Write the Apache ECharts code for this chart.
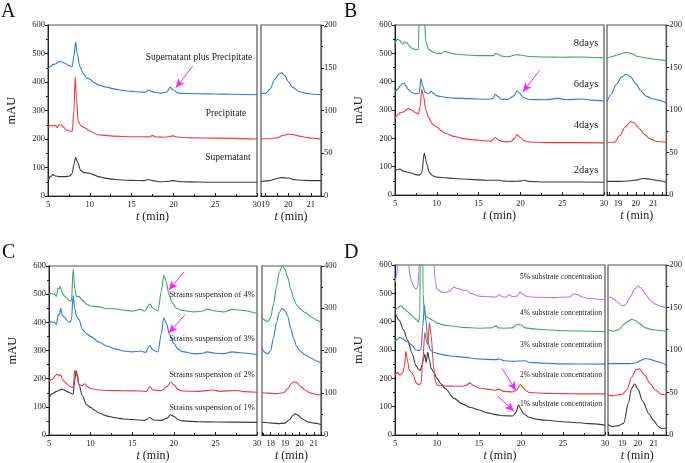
<!DOCTYPE html>
<html><head><meta charset="utf-8">
<script src="https://cdn.jsdelivr.net/npm/echarts@6/dist/echarts.min.js"></script>
<style>html,body{margin:0;padding:0;background:#fff}#c{width:685px;height:463px}</style>
</head><body><div id="c"></div>
<script>
// ---------- DATA ----------
// Panel A main (t, mAU)
const A_sp = [[5,446],[5.3,455],[5.6,462],[5.9,463],[6.2,470],[6.6,471],[7,466],[7.5,458],[7.9,455],[8.1,490],[8.3,540],[8.5,500],[8.8,455],[9.2,430],[9.6,415],[10,410],[10.5,398],[11,390],[12,382],[13,375],[14,370],[15,367],[16,365],[16.7,364],[17,372],[17.3,368],[17.8,363],[18.5,361],[19.2,365],[19.6,381],[20,372],[20.5,362],[21,360],[23,359],[25,358],[27,357],[30,355]];
const A_pr = [[5,242],[5.3,248],[5.6,246],[5.9,248],[6.1,240],[6.3,250],[6.6,248],[6.9,240],[7.2,232],[7.6,228],[7.9,226],[8.1,300],[8.25,418],[8.4,350],[8.6,260],[9,245],[9.5,238],[10,228],[11,215],[12,212],[13,210],[15,208],[16.5,208],[17,207],[17.5,212],[18,207],[19,206],[20,211],[20.5,207],[22,204],[25,203],[30,200]];
const A_su = [[5,55],[5.3,68],[5.6,75],[5.9,70],[6.3,68],[7,68],[7.6,70],[7.9,80],[8.1,110],[8.3,135],[8.6,115],[8.9,90],[9.3,82],[10,80],[10.5,74],[11,68],[12,62],[13,58],[14,56],[15,55],[16.5,54],[17,58],[17.5,54],[18.5,50],[19.5,52],[20,54],[21,50],[23,49],[25,48],[30,48]];
// Panel A inset (right axis)
const Ai_sp = [[18.8,120],[19,120],[19.2,125],[19.4,136],[19.6,143],[19.7,144],[19.85,141],[20,134],[20.2,127],[20.5,122],[20.8,120],[21.1,119],[21.45,118.5]];
const Ai_pr = [[18.8,67],[19.2,67],[19.5,68],[19.8,71],[20,72.5],[20.2,72],[20.5,70],[20.8,68.5],[21.1,67.5],[21.45,66.5]];
const Ai_su = [[18.8,17],[19.2,18],[19.5,20.5],[19.7,21.5],[20,21],[20.3,19],[20.6,18.5],[21,18],[21.45,18]];

// Panel B main
const B_8 = [[5,535],[5.3,550],[5.6,545],[5.9,532],[6.1,540],[6.4,538],[6.6,530],[7,518],[7.5,512],[7.8,515],[7.9,640],[8.0,800],[8.4,800],[8.5,620],[8.7,540],[9,515],[9.5,505],[10,500],[10.5,500],[11,507],[11.5,502],[12,498],[13,495],[15,492],[16.8,492],[17,500],[17.3,497],[17.8,490],[18.5,488],[19.5,495],[20,494],[21,489],[23,487],[25,486],[27,487],[30,484]];
const B_6 = [[5,365],[5.3,372],[5.6,385],[5.9,393],[6.1,395],[6.3,385],[6.6,372],[7,362],[7.5,357],[7.9,360],[8.1,412],[8.3,385],[8.6,362],[9,358],[9.3,366],[9.6,358],[10,350],[11,345],[12,342],[14,340],[16,338],[16.7,340],[17,355],[17.3,348],[17.7,338],[18.5,337],[19.2,350],[19.6,367],[19.9,360],[20.3,345],[21,337],[23,336],[24.5,341],[25.5,336],[27.5,339],[28.5,335],[30,332]];
const B_4 = [[5,270],[5.3,282],[5.6,290],[6,293],[6.3,300],[6.6,305],[7,300],[7.4,292],[7.8,285],[8.0,310],[8.2,372],[8.4,350],[8.7,300],[9,275],[9.5,250],[10,240],[10.5,228],[11,218],[12,207],[13,200],[14,196],[15,193],[16.5,190],[17,203],[17.3,196],[17.8,189],[18.8,188],[19.3,200],[19.6,213],[20,203],[20.4,192],[21,187],[23,185],[25,185],[30,184]];
const B_2 = [[5,84],[5.3,90],[5.6,92],[5.9,85],[6.3,82],[7,77],[7.5,72],[7.9,70],[8.2,78],[8.5,148],[8.8,110],[9.1,80],[9.5,68],[10,63],[11,61],[12,58],[14,55],[16,52],[17.5,52],[18,49],[19,48],[20,49],[20.5,52],[21,48],[23,46],[25,46],[30,45]];
const Bi_8 = [[18.38,161],[18.7,163],[19,165],[19.3,167],[19.5,168],[19.8,166],[20.1,163],[20.5,161.5],[21,160],[21.4,159],[21.71,158]];
const Bi_6 = [[18.38,110],[18.6,118],[18.9,130],[19.2,139],[19.45,142],[19.7,139],[20,131],[20.3,122],[20.6,116],[21,113],[21.4,111],[21.71,108]];
const Bi_4 = [[18.38,62],[18.8,62],[19.1,70],[19.4,80],[19.7,86],[19.9,85],[20.2,78],[20.5,71],[20.8,66],[21.2,63],[21.71,62]];
const Bi_2 = [[18.38,16],[19,16],[19.6,16.5],[20,17.5],[20.4,19.5],[20.7,19],[21.1,17.5],[21.4,16.5],[21.71,15]];

// Panel C main
const C_4 = [[5,500],[5.3,503],[5.6,500],[5.9,492],[6.05,522],[6.2,518],[6.35,528],[6.5,510],[6.8,495],[7.1,488],[7.4,478],[7.7,475],[7.9,588],[8.1,520],[8.3,492],[8.6,492],[9,478],[9.5,465],[10,458],[11,455],[12,448],[13,448],[14,443],[15,440],[16,446],[16.5,440],[17.1,465],[17.5,450],[18.1,440],[18.5,510],[18.8,567],[19.1,545],[19.4,500],[19.8,470],[20.3,450],[21,442],[22.5,437],[23.5,440],[24,447],[25,440],[26,437],[27,446],[28,443],[30,432]];
const C_3 = [[5,395],[5.3,402],[5.6,400],[5.9,393],[6.1,428],[6.25,425],[6.4,450],[6.6,425],[6.9,418],[7.2,405],[7.5,400],[7.7,410],[7.9,495],[8.1,450],[8.3,420],[8.6,410],[9,375],[9.5,360],[10,350],[11,330],[12,315],[13,305],[14,298],[15,295],[16,298],[16.6,293],[17.1,318],[17.5,302],[18.1,295],[18.5,360],[18.8,415],[19.1,398],[19.5,355],[20,325],[20.5,305],[21,296],[22.5,288],[23.5,290],[24,295],[25,290],[26,289],[27,295],[28,292],[30,285]];
const C_2 = [[5,190],[5.4,198],[5.8,212],[6,216],[6.2,210],[6.4,215],[6.6,198],[7,185],[7.5,172],[7.9,168],[8.1,230],[8.3,215],[8.6,178],[9,175],[9.3,182],[9.6,172],[10,165],[11,160],[12,158],[14,157],[16,156],[16.7,155],[17.1,172],[17.5,160],[18.5,157],[19.2,172],[19.6,188],[20,178],[20.5,162],[21,156],[23,155],[24.7,160],[25.5,155],[27.5,158],[28.5,154],[30,152]];
const C_1 = [[5,130],[5.3,145],[5.6,150],[5.9,155],[6.2,158],[6.5,163],[6.8,160],[7.1,155],[7.5,150],[7.9,145],[8.1,195],[8.25,228],[8.4,215],[8.6,180],[9,140],[9.5,108],[10,98],[10.5,88],[11,78],[12,67],[13,61],[14,57],[15,55],[16.5,52],[17.1,62],[17.6,53],[18.5,52],[19.2,60],[19.6,72],[20,66],[20.5,55],[21,50],[23,47],[25,46],[30,45]];
const Ci_4 = [[17.4,278],[17.6,272],[17.8,268],[18,278],[18.2,310],[18.4,350],[18.6,385],[18.8,400],[19,392],[19.2,372],[19.4,345],[19.6,323],[19.8,308],[20,300],[20.4,290],[20.8,280],[21.2,272],[21.5,266]];
const Ci_3 = [[17.4,205],[17.6,196],[17.8,192],[18,200],[18.2,230],[18.4,265],[18.6,290],[18.8,300],[19,295],[19.2,280],[19.4,252],[19.6,228],[19.8,210],[20,200],[20.4,190],[20.8,182],[21.2,175],[21.5,170]];
const Ci_2 = [[17.4,100],[17.8,99],[18.4,98],[18.9,100],[19.2,110],[19.4,120],[19.6,126],[19.8,124],[20.1,115],[20.4,106],[20.8,99],[21.2,96],[21.5,94]];
const Ci_1 = [[17.4,30],[17.8,29],[18.5,27],[19,28],[19.3,36],[19.55,46],[19.7,50],[19.9,47],[20.2,38],[20.6,31],[21,28],[21.5,25]];

// Panel D main
const D_5 = [[5,540],[5.2,560],[5.35,620],[5.45,800],[6.5,800],[6.6,620],[6.75,565],[7,540],[7.3,520],[7.5,515],[7.7,522],[7.85,580],[7.95,800],[9.5,800],[9.6,620],[9.8,540],[10,515],[10.5,505],[11,502],[11.6,510],[12,522],[12.4,518],[13,512],[13.5,510],[14,500],[15,490],[16,488],[17,487],[17.4,495],[17.8,488],[18.2,486],[18.6,495],[19,488],[19.5,490],[19.9,505],[20.3,495],[20.8,488],[22,486],[24,485],[25.8,487],[26.3,498],[26.7,496],[27.3,487],[28,482],[30,478]];
const D_4 = [[5,440],[5.3,448],[5.6,455],[5.8,456],[6.1,445],[6.5,435],[7,422],[7.5,408],[7.8,398],[7.95,420],[8.05,800],[8.25,800],[8.35,500],[8.5,425],[9,412],[9.5,405],[10,395],[11,387],[12,384],[13,380],[15,377],[16.5,378],[17,385],[17.3,378],[18,377],[19,378],[19.6,392],[20,388],[20.5,378],[22,373],[25,368],[30,365]];
const D_3 = [[5,330],[5.3,338],[5.6,345],[5.9,340],[6.3,332],[7,318],[7.5,300],[7.9,298],[8.1,305],[8.3,380],[8.5,457],[8.7,400],[8.9,330],[9.2,300],[9.6,292],[10,288],[11,282],[12,278],[13,275],[15,268],[17,266],[17.5,268],[18,262],[19,260],[20.5,262],[21,256],[23,253],[25,251],[30,250]];
const D_2 = [[5,210],[5.3,220],[5.6,212],[5.9,218],[6.1,240],[6.3,295],[6.5,260],[6.7,228],[7,220],[7.2,210],[7.5,185],[7.8,178],[8.1,182],[8.3,260],[8.55,362],[8.75,330],[8.9,320],[9.1,395],[9.3,350],[9.6,240],[9.8,190],[10,176],[11,173],[12,172],[13,172],[13.5,176],[13.9,184],[14.3,175],[15,166],[16,162],[17,158],[17.3,162],[18,154],[19,152],[19.5,158],[19.9,178],[20.2,170],[20.6,156],[21,150],[23,147],[25,146],[27,145],[30,145]];
const D_1 = [[5,433],[5.5,405],[6,372],[6.5,335],[7,290],[7.5,245],[7.8,232],[8.0,228],[8.2,245],[8.4,270],[8.55,285],[8.7,255],[8.9,292],[9.1,265],[9.3,235],[9.6,222],[10,200],[10.5,180],[11,163],[12,130],[13,110],[14,97],[15,88],[16,78],[17,72],[18,68],[19,67],[19.4,80],[19.7,107],[20,90],[20.3,75],[21,62],[22,55],[23,52],[25,47],[27,43],[28,40],[30,35]];
const Di_5 = [[18.1,162],[18.3,162],[18.6,158],[19,152],[19.2,153],[19.5,162],[19.8,172],[20,175],[20.2,173],[20.5,165],[20.8,158],[21.1,154],[21.5,151],[21.8,150]];
const Di_4 = [[18.1,124],[18.4,122],[18.8,124],[19.1,130],[19.4,134],[19.6,136],[19.8,135],[20.1,131],[20.5,126],[20.9,124],[21.3,123],[21.8,122]];
const Di_3 = [[18.1,84],[18.8,84],[19.5,84],[19.9,85],[20.2,88],[20.5,90],[20.8,89],[21.1,87],[21.5,85],[21.8,82]];
const Di_2 = [[18.1,47],[18.4,46],[18.7,47],[19,48],[19.3,53],[19.6,68],[19.9,77],[20.1,78],[20.4,71],[20.8,60],[21.1,53],[21.5,48],[21.8,47]];
const Di_1 = [[18.1,12],[18.4,10],[18.8,11],[19.1,14],[19.4,38],[19.6,55],[19.8,60],[20,54],[20.3,40],[20.7,25],[21,17],[21.3,10],[21.5,8],[21.8,8]];

// axis ranges / ticks
const mainX = [5, 30, 5];
const mainY = [0, 600, 100];
const insetX = [[18.8,21.45],[18.38,21.71],[17.4,21.5],[18.1,21.8]];
const insetY = [[0,200,50],[0,200,50],[0,400,100],[0,200,50]];
// arrows [fromT, fromV, toT, toV]
const arrowsA = [[22.3,455,20.3,380]];
const arrowsB = [[22.3,440,20.3,364]];
const arrowsC1 = [[21.2,578,19.4,515]];
const arrowsC2 = [[21.35,427,19.4,362]];
const arrowsD1 = [[17.75,235,19.4,157]];
const arrowsD2 = [[17.25,137,19.15,84]];
// labels
const labelsA = ['Supernatant plus Precipitate','Precipitate','Supernatant'];
const labelsB = ['8days','6days','4days','2days'];
const labelsC = ['Strains suspension of 4%','Strains suspension of 3%','Strains suspension of 2%','Strains suspension of 1%'];
const labelsD = ['5% substrate concentration','4% substrate concentration','3% substrate concentration','2% substrate concentration','1% substrate concentration'];
const panelLetters = ['A','B','C','D'];

// ---------- STYLE ----------
const FONT = '"Liberation Serif","Times New Roman",serif';
const BLACK = '#3a3a3a', RED = '#ee3b3b', BLUE = '#2f78e0', GREEN = '#3aaa62', PURPLE = '#b47be6', MAG = '#ff22ff';
const grids = [
  {left:48, top:25, width:209, height:171},
  {left:261, top:25, width:60, height:171},
  {left:395, top:25, width:209, height:170},
  {left:607, top:25, width:61, height:170},
  {left:49, top:266, width:208, height:170},
  {left:262, top:266, width:59, height:170},
  {left:395, top:265, width:210, height:172},
  {left:608, top:265, width:60, height:172}
].map(g => Object.assign({show:true, borderColor:'#555', borderWidth:1.2, backgroundColor:'transparent'}, g));

const lblStyle = {fontFamily:FONT, fontSize:8.5, color:'#222'};
const nameStyle = {fontFamily:FONT, fontSize:12, color:'#222', rich:{i:{fontFamily:FONT, fontSize:12, fontStyle:'italic', color:'#222'}}};
const xAxes = [], yAxes = [];
for (let p = 0; p < 4; p++) {
  xAxes.push({gridIndex:2*p, type:'value', min:mainX[0], max:mainX[1], interval:mainX[2],
    axisLine:{show:true, onZero:false, lineStyle:{color:'#222', width:1}},
    axisTick:{show:true, inside:true, length:3, lineStyle:{color:'#222'}},
    minorTick:{show:true, splitNumber:2, length:2, lineStyle:{color:'#222'}},
    axisLabel:Object.assign({margin:4}, lblStyle), splitLine:{show:false},
    name:'{i|t} (min)', nameLocation:'middle', nameGap:15, nameTextStyle:nameStyle});
  xAxes.push({gridIndex:2*p+1, type:'value', min:insetX[p][0], max:insetX[p][1],
    axisLine:{show:true, onZero:false, lineStyle:{color:'#222', width:1}},
    axisTick:{show:true, inside:true, length:3, lineStyle:{color:'#222'}},
    minorTick:{show:p===2, splitNumber:2, length:2, lineStyle:{color:'#222'}},
    axisLabel:Object.assign({margin:4, formatter:v => (Math.abs(v-Math.round(v))<1e-6 ? String(Math.round(v)) : '')}, lblStyle),
    splitLine:{show:false},
    name:'{i|t} (min)', nameLocation:'middle', nameGap:15, nameTextStyle:nameStyle});
  yAxes.push({gridIndex:2*p, type:'value', min:mainY[0], max:mainY[1], interval:mainY[2],
    axisLine:{show:true, onZero:false, lineStyle:{color:'#222', width:1}},
    axisTick:{show:true, inside:false, length:3, lineStyle:{color:'#222'}},
    minorTick:{show:true, splitNumber:2, length:2, lineStyle:{color:'#222'}},
    axisLabel:Object.assign({margin:3}, lblStyle), splitLine:{show:false},
    name:'mAU', nameLocation:'middle', nameGap:30, nameTextStyle:{fontFamily:FONT, fontSize:12.5, color:'#222'}});
  yAxes.push({gridIndex:2*p+1, type:'value', position:'right', min:insetY[p][0], max:insetY[p][1], interval:insetY[p][2],
    axisLine:{show:true, onZero:false, lineStyle:{color:'#555', width:1.2}},
    axisTick:{show:true, inside:false, length:3, lineStyle:{color:'#222'}},
    minorTick:{show:true, splitNumber:2, length:2, lineStyle:{color:'#222'}},
    axisLabel:Object.assign({margin:3}, lblStyle), splitLine:{show:false}});
}

function line(data, idx, color, arrows) {
  const s = {type:'line', xAxisIndex:idx, yAxisIndex:idx, data:data, symbol:'none', showSymbol:false,
    smooth:0.3, smoothMonotone:'x', clip:true, lineStyle:{color:color, width:1.1}, itemStyle:{color:color}, z:3};
  if (arrows) {
    s.markLine = {silent:true, symbol:['none','arrow'], symbolSize:9, animation:false,
      itemStyle:{color:MAG}, lineStyle:{color:MAG, width:1, type:'solid'}, label:{show:false},
      emphasis:{disabled:true},
      data: arrows.map(a => [{coord:[a[0],a[1]], symbol:'none'},{coord:[a[2],a[3]], symbol:'arrow', symbolSize:[6,9]}])};
  }
  return s;
}
const series = [
  line(A_su,0,BLACK), line(A_pr,0,RED), line(A_sp,0,BLUE,arrowsA),
  line(Ai_su,1,BLACK), line(Ai_pr,1,RED), line(Ai_sp,1,BLUE),
  line(B_2,2,BLACK), line(B_4,2,RED), line(B_6,2,BLUE,arrowsB), line(B_8,2,GREEN),
  line(Bi_2,3,BLACK), line(Bi_4,3,RED), line(Bi_6,3,BLUE), line(Bi_8,3,GREEN),
  line(C_1,4,BLACK), line(C_2,4,RED), line(C_3,4,BLUE,arrowsC2), line(C_4,4,GREEN,arrowsC1),
  line(Ci_1,5,BLACK), line(Ci_2,5,RED), line(Ci_3,5,BLUE), line(Ci_4,5,GREEN),
  line(D_1,6,BLACK,arrowsD2), line(D_2,6,RED,arrowsD1), line(D_3,6,BLUE), line(D_4,6,GREEN), line(D_5,6,PURPLE),
  line(Di_1,7,BLACK), line(Di_2,7,RED), line(Di_3,7,BLUE), line(Di_4,7,GREEN), line(Di_5,7,PURPLE)
];

function txt(s, x, y, size) {
  return {type:'text', x:x, y:y, z:10, silent:true,
    style:{text:s, fontFamily:FONT, fontSize:size, fill:'#222', textAlign:'center', textVerticalAlign:'middle'}};
}
const graphics = [];
const letterPos = [[1,2],[344,2],[2,243],[344,243]];
panelLetters.forEach((l,i) => graphics.push({type:'text', x:letterPos[i][0], y:letterPos[i][1], silent:true,
  style:{text:l, fontFamily:FONT, fontSize:20, fill:'#111'}}));
const posA = [[199,57],[226,113],[228,157]];
labelsA.forEach((s,i) => graphics.push(txt(s, posA[i][0], posA[i][1], 9.5)));
const posB = [[586,43],[586,84],[586,125],[586,170]];
labelsB.forEach((s,i) => graphics.push(txt(s, posB[i][0], posB[i][1], 10.5)));
const posC = [[212,295],[212,339],[212,375],[212,408]];
labelsC.forEach((s,i) => graphics.push(txt(s, posC[i][0], posC[i][1], 8.5)));
const posD = [[561,277],[561,313],[561,345],[561,375],[561,404]];
labelsD.forEach((s,i) => graphics.push(txt(s, posD[i][0], posD[i][1], 7.6)));

const chart = echarts.init(document.getElementById('c'), null, {renderer:'canvas'});
chart.setOption({animation:false, backgroundColor:'#fff', grid:grids, xAxis:xAxes, yAxis:yAxes, series:series, graphic:graphics});
</script></body></html>
